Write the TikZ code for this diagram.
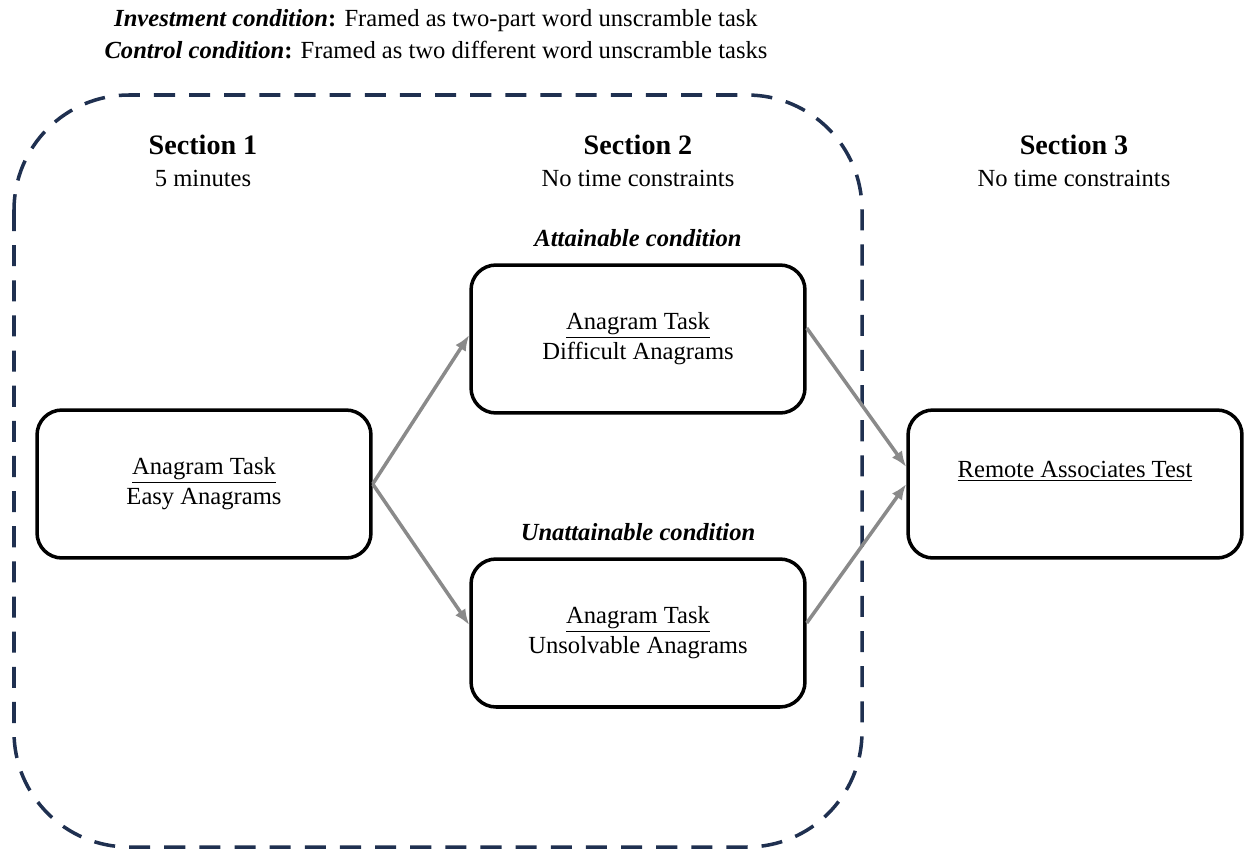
\documentclass[tikz,border=0pt]{standalone}
\usepackage{fontspec}
\setmainfont{Liberation Serif}
\usetikzlibrary{positioning, arrows.meta}
\definecolor{framenavy}{HTML}{1F3050}
\definecolor{flowgray}{HTML}{8A8A8A}
\tikzset{
    >={Latex[length=9pt,width=7pt]}, % filled tips on all arrows
    x=0.02cm, y=-0.02cm, % one unit is one pixel of the layout
    taskbox/.style={draw, line width=2pt, rounded corners=0.5cm, minimum width=6.68cm, minimum height=2.96cm, align=center, font=\fontsize{14}{17}\selectfont},
    flow/.style={->, draw=flowgray, line width=2pt},
    }

\begin{document}
\begin{tikzpicture}[secttitle/.style={font=\fontsize{16}{19}\selectfont\bfseries}, secttime/.style={font=\fontsize{14}{17}\selectfont}, condlabel/.style={font=\fontsize{14}{17}\selectfont\bfseries\itshape}, dashframe/.style={draw=framenavy, line width=2pt, dash pattern=on 12pt off 8pt, rounded corners=2.3cm}]
\useasboundingbox (0,0) rectangle (1246,851);
\node[align=center, font=\fontsize{14}{18}\selectfont] (framing) at (436,34) {\textbf{\textit{Investment condition}:} Framed as two-part word unscramble task\\\textbf{\textit{Control condition}:} Framed as two different word unscramble tasks};
\draw[dashframe] (14,95) rectangle (862,847);

\node[secttitle] (sec1) at (203,145) {Section 1};
\node[secttime] (time1) at (203,178) {5 minutes};
\node[secttitle] (sec2) at (638,145) {Section 2};
\node[secttime] (time2) at (638,178) {No time constraints};
\node[secttitle] (sec3) at (1074,145) {Section 3};
\node[secttime] (time3) at (1074,178) {No time constraints};

\node[taskbox] (easy) at (204,484) {\underline{Anagram Task}\\Easy Anagrams};
\node[taskbox] (hard) at (638,339) {\underline{Anagram Task}\\Difficult Anagrams};
\node[taskbox] (unsolv) at (638,633) {\underline{Anagram Task}\\Unsolvable Anagrams};
\node[taskbox] (rat) at (1075,484) {\underline{Remote Associates Test}\\\mbox{}};
\node[condlabel, above=6pt of hard] (attain) {Attainable condition};
\node[condlabel, above=6pt of unsolv] (unattain) {Unattainable condition};

\draw[flow] (easy.east) -- ([yshift=0.08cm]hard.west);
\draw[flow] (easy.east) -- ([yshift=0.16cm]unsolv.west);
\draw[flow] ([yshift=0.22cm]hard.east) -- ([yshift=0.34cm]rat.west);
\draw[flow] ([yshift=0.2cm]unsolv.east) -- (rat.west);
\end{tikzpicture}
\end{document}
